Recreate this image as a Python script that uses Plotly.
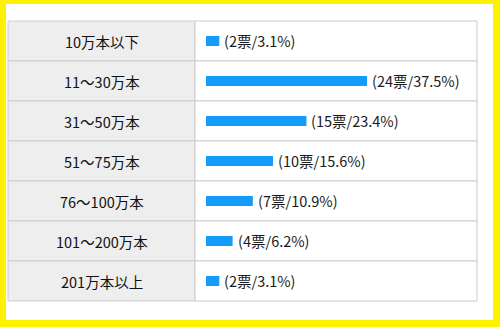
import plotly.graph_objects as go

categories = ["10万本以下", "11〜30万本", "31〜50万本", "51〜75万本", "76〜100万本", "101〜200万本", "201万本以上"]
votes = [2, 24, 15, 10, 7, 4, 2]
percents = [3.1, 37.5, 23.4, 15.6, 10.9, 6.2, 3.1]

W, H = 500, 327
FONT = "Noto Sans CJK JP, Noto Sans, sans-serif"
BAR_X0 = 206          # pixel where bars start
K = 161 / 37.5        # pixels per percent
ROW_TOP, ROW_H = 21, 40

def px(x):
    return x / W

def py(y):
    return 1 - y / H

idx = list(range(len(categories)))
labels = [f"({v}票/{p:.1f}%)" for v, p in zip(votes, percents)]

fig = go.Figure()
fig.add_trace(go.Bar(
    x=percents, y=idx, orientation="h", width=0.25,
    marker=dict(color="#159bf8", line=dict(width=0)),
    cliponaxis=False, hoverinfo="skip",
))

shapes = [dict(type="rect", xref="paper", yref="paper", x0=px(6), x1=px(493), y0=py(320), y1=py(4),
               fillcolor="white", line=dict(width=0), layer="below")]
annotations = []
for i, cat in enumerate(categories):
    shapes.append(dict(type="rect", xref="paper", yref="y", x0=px(8), x1=px(195), y0=i - 0.5, y1=i + 0.5,
                       fillcolor="#eeeeee", line=dict(color="#cccccc", width=1), layer="below"))
    shapes.append(dict(type="rect", xref="paper", yref="y", x0=px(195), x1=px(477), y0=i - 0.5, y1=i + 0.5,
                       fillcolor="white", line=dict(color="#cccccc", width=1), layer="below"))
    annotations.append(dict(x=px(101.5), y=i, xref="paper", yref="y", text=cat, showarrow=False,
                            font=dict(family=FONT, size=14.5, color="#111"), xanchor="center", yanchor="middle"))
    annotations.append(dict(x=percents[i], y=i, xref="x", yref="y", text=labels[i], showarrow=False,
                            xanchor="left", yanchor="middle", xshift=3, yshift=0.5,
                            font=dict(family=FONT, size=14.5, color="#1a1a1a")))

fig.update_layout(
    width=W, height=H, margin=dict(l=0, r=0, t=0, b=0),
    paper_bgcolor="#fff200", plot_bgcolor="rgba(0,0,0,0)",
    showlegend=False, shapes=shapes, annotations=annotations,
    xaxis=dict(visible=False, range=[-BAR_X0 / K, (W - BAR_X0) / K], fixedrange=True),
    yaxis=dict(visible=False, range=[(H - ROW_TOP - ROW_H / 2) / ROW_H, -(ROW_TOP + ROW_H / 2) / ROW_H], fixedrange=True),
)

fig.write_html("out.html")
